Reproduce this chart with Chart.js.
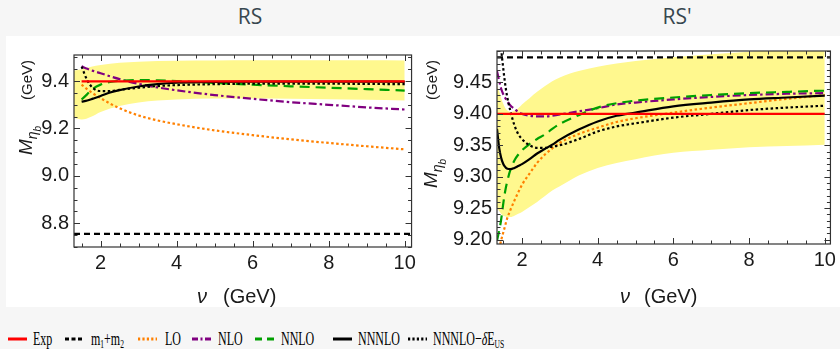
<!DOCTYPE html>
<html>
<head>
<meta charset="utf-8">
<script src="https://cdn.jsdelivr.net/npm/chart.js@4/dist/chart.umd.min.js"></script>
<style>
  html, body { margin: 0; padding: 0; }
  body { width: 840px; height: 349px; background: #f6f6f6; position: relative; overflow: hidden; }
  .title { position: absolute; top: 2px; font: 21px "Open Sans", sans-serif; color: #37474f; transform: translateX(-50%); }
  #sheet { position: absolute; left: 6px; top: 36px; width: 834px; height: 271px; background: #fff; }
  canvas { position: absolute; }
  #legend { position: absolute; top: 327px; left: 0; width: 840px; height: 24px; font: 19px "Liberation Serif", "DejaVu Serif", serif; color: #000; }
  .swatch { position: absolute; top: 9px; line-height: 0; }
  .swatch svg { display: block; }
  .label { position: absolute; top: 0; line-height: 24px; white-space: nowrap; transform: scaleX(0.63); transform-origin: left center; }
  sub { font-size: 12px; vertical-align: -3px; line-height: 0; }
</style>
</head>
<body>
<div class="title" style="left:250px">RS</div>
<div class="title" style="left:677px">RS'</div>
<div id="sheet"></div>
<canvas id="rsChart" width="414" height="269" style="left:6px;top:38px"></canvas>
<canvas id="rspChart" width="420" height="273" style="left:420px;top:34px"></canvas>
<div id="legend"></div>
<script>
// ---- RS panel ----
const rsNu = [1.5, 1.65, 1.8, 2, 2.25, 2.5, 3, 3.5, 4, 5, 6, 7, 8, 9, 10];
const rsLO = [9.385, 9.365, 9.348, 9.328, 9.305, 9.285, 9.255, 9.234, 9.218, 9.192, 9.172, 9.154, 9.139, 9.125, 9.112];
const rsNLO = [9.462, 9.452, 9.443, 9.433, 9.42, 9.408, 9.388, 9.373, 9.361, 9.341, 9.325, 9.311, 9.3, 9.289, 9.28];
const rsNNLO = [9.322, 9.345, 9.368, 9.385, 9.396, 9.401, 9.404, 9.403, 9.4, 9.392, 9.385, 9.378, 9.372, 9.366, 9.36];
const rsNNNLO = [9.313, 9.318, 9.326, 9.337, 9.352, 9.362, 9.377, 9.387, 9.393, 9.397, 9.398, 9.398, 9.398, 9.398, 9.397];
const rsNNNLOus = [9.461, 9.403, 9.37, 9.358, 9.358, 9.363, 9.372, 9.379, 9.383, 9.387, 9.389, 9.389, 9.389, 9.388, 9.387];
const rsBandNu = [1.3, 1.5, 1.75, 2, 2.5, 3, 4, 5, 6, 7, 8, 9, 10];
const rsBandLo = [9.245, 9.238, 9.25, 9.27, 9.295, 9.31, 9.322, 9.326, 9.326, 9.325, 9.323, 9.321, 9.318];
const rsBandHi = [9.445, 9.45, 9.46, 9.468, 9.477, 9.482, 9.486, 9.487, 9.488, 9.488, 9.488, 9.488, 9.487];
const rsExp = 9.399;
const rsM12 = 8.755;

// ---- RS' panel ----
const rspNu = [1.34, 1.4, 1.45, 1.5, 1.55, 1.6, 1.7, 1.8, 1.9, 2, 2.2, 2.4, 2.6, 2.8, 3, 3.5, 4, 4.5, 5, 6, 7, 8, 9, 10];
const rspLO = [null, 9.185, 9.199, 9.21, 9.221, 9.232, 9.248, 9.262, 9.275, 9.287, 9.305, 9.322, 9.335, 9.345, 9.354, 9.368, 9.378, 9.387, 9.393, 9.402, 9.41, 9.417, 9.424, 9.43];
const rspNLO = [9.468, 9.452, 9.44, 9.432, 9.426, 9.421, 9.413, 9.408, 9.403, 9.4, 9.397, 9.396, 9.396, 9.397, 9.399, 9.404, 9.409, 9.415, 9.418, 9.423, 9.427, 9.43, 9.432, 9.433];
const rspNNLO = [9.198, 9.215, 9.232, 9.255, 9.275, 9.29, 9.312, 9.326, 9.335, 9.342, 9.352, 9.36, 9.367, 9.376, 9.384, 9.398, 9.41, 9.417, 9.421, 9.426, 9.43, 9.433, 9.435, 9.437];
const rspNNNLO = [9.376, 9.345, 9.33, 9.321, 9.316, 9.313, 9.312, 9.314, 9.317, 9.32, 9.328, 9.337, 9.344, 9.351, 9.359, 9.375, 9.388, 9.397, 9.402, 9.412, 9.418, 9.423, 9.426, 9.429];
const rspNNNLOus = [null, 9.56, 9.505, 9.475, 9.45, 9.43, 9.403, 9.382, 9.368, 9.36, 9.35, 9.346, 9.346, 9.348, 9.35, 9.36, 9.372, 9.38, 9.385, 9.394, 9.4, 9.406, 9.41, 9.413];
const rspBandLo = [9.25, 9.245, 9.241, 9.238, 9.237, 9.236, 9.236, 9.238, 9.241, 9.244, 9.252, 9.26, 9.269, 9.278, 9.285, 9.302, 9.314, 9.322, 9.328, 9.338, 9.343, 9.347, 9.349, 9.351];
const rspBandHi = [9.445, 9.435, 9.425, 9.417, 9.41, 9.406, 9.403, 9.405, 9.409, 9.415, 9.425, 9.435, 9.444, 9.452, 9.458, 9.468, 9.475, 9.48, 9.484, 9.49, 9.495, 9.499, 9.502, 9.505];
const rspExp = 9.40;
const rspM12 = 9.49;

// ---- axes ----
const xTicks = [2, 4, 6, 8, 10];
const rsYTicks = [8.8, 9.0, 9.2, 9.4];
const rspYTicks = [9.20, 9.25, 9.30, 9.35, 9.40, 9.45];

const legendLabels = ["Exp", "m<sub>1</sub>+m<sub>2</sub>", "LO", "NLO", "NNLO", "NNNLO", "NNNLO\u2212<i>\u03b4</i>E<sub>US</sub>"];
const legendKeys = ["exp", "m12", "lo", "nlo", "nnlo", "n3lo", "n3lous"];

const styles = {
  exp: { color: "#ff0000", dash: [], legendDash: [] },
  m12: { color: "#000000", dash: [6, 4], legendDash: [4, 2.5] },
  lo: { color: "#ff8000", dash: [2.5, 2.5], legendDash: [2.2, 2.2] },
  nlo: { color: "#800080", dash: [8, 3, 2.5, 3], legendDash: [6, 2.5, 2, 2.5] },
  nnlo: { color: "#00a000", dash: [10, 6], legendDash: [7, 5] },
  n3lo: { color: "#000000", dash: [], legendDash: [] },
  n3lous: { color: "#000000", dash: [2.5, 2.5], legendDash: [2.2, 2.2] }
};
const BAND_COLOR = "#fff88e";
const TEXT_COLOR = "#1a1a1a";

function toPoints(xs, ys) {
  const pts = [];
  xs.forEach((x, i) => {
    if (ys[i] !== null && ys[i] !== undefined) pts.push({ x, y: ys[i] });
  });
  return pts;
}

function lineSet(key, points, order) {
  const s = styles[key];
  return {
    data: points,
    borderColor: s.color,
    borderDash: s.dash,
    borderWidth: 2.2,
    pointRadius: 0,
    fill: false,
    cubicInterpolationMode: "monotone",
    clip: 0,
    order
  };
}

function bandSets(xs, lo, hi) {
  return [
    { data: toPoints(xs, hi), borderWidth: 0, pointRadius: 0, fill: "+1", backgroundColor: BAND_COLOR, cubicInterpolationMode: "monotone", clip: 0, order: 20 },
    { data: toPoints(xs, lo), borderWidth: 0, pointRadius: 0, fill: false, cubicInterpolationMode: "monotone", clip: 0, order: 21 }
  ];
}

// frame with inward major/minor ticks on all four sides, Mathematica style
const framePlugin = {
  id: "frame",
  afterDatasetsDraw(chart, args, opts) {
    const { ctx, chartArea: a, scales } = chart;
    const x = scales.x, y = scales.y;
    ctx.save();
    ctx.strokeStyle = "#333";
    ctx.lineWidth = 1.2;
    ctx.strokeRect(a.left, a.top, a.right - a.left, a.bottom - a.top);
    ctx.lineWidth = 1;
    ctx.beginPath();
    const xMinorStep = 0.5;
    for (let v = Math.ceil(x.min / xMinorStep) * xMinorStep; v <= x.max + 1e-9; v += xMinorStep) {
      const major = xTicks.some(t => Math.abs(t - v) < 1e-6);
      const len = major ? 6 : 3.5;
      const px = Math.round(x.getPixelForValue(v)) + 0.5;
      ctx.moveTo(px, a.bottom); ctx.lineTo(px, a.bottom - len);
      ctx.moveTo(px, a.top); ctx.lineTo(px, a.top + len);
    }
    const step = opts.yMinorStep;
    for (let i = Math.ceil(y.min / step - 1e-6); i * step <= y.max + 1e-9; i++) {
      const v = i * step;
      const major = opts.yMajor.some(t => Math.abs(t - v) < 1e-6);
      const len = major ? 6 : 3.5;
      const py = Math.round(y.getPixelForValue(v)) + 0.5;
      ctx.moveTo(a.left, py); ctx.lineTo(a.left + len, py);
      ctx.moveTo(a.right, py); ctx.lineTo(a.right - len, py);
    }
    ctx.stroke();
    ctx.restore();
  },
  afterDraw(chart, args, opts) {
    const ctx = chart.ctx;
    ctx.save();
    ctx.fillStyle = TEXT_COLOR;
    ctx.textBaseline = "alphabetic";
    // x title
    ctx.textAlign = "left";
    ctx.font = "italic 20px 'Liberation Sans', Arial, sans-serif";
    ctx.fillText("\u03bd", opts.xTitle[0], opts.xTitle[1]);
    ctx.font = "20px 'Liberation Sans', Arial, sans-serif";
    ctx.fillText("(GeV)", opts.xTitle[0] + opts.xGap, opts.xTitle[1]);
    // y title, rotated
    ctx.translate(opts.yTitle[0], opts.yTitle[1]);
    ctx.rotate(-Math.PI / 2);
    ctx.font = "italic 19px 'Liberation Sans', Arial, sans-serif";
    ctx.fillText("M", 0, 0);
    let w = ctx.measureText("M").width;
    ctx.font = "italic 14px 'Liberation Sans', Arial, sans-serif";
    ctx.fillText("\u03b7", w, 5);
    w += ctx.measureText("\u03b7").width;
    ctx.font = "italic 10px 'Liberation Sans', Arial, sans-serif";
    ctx.fillText("b", w, 9);
    ctx.font = "15px 'Liberation Sans', Arial, sans-serif";
    ctx.fillText("(GeV)", opts.gevOffset, 0);
    ctx.restore();
  }
};

function buildChart(canvas, cfg) {
  const tickFont = { family: "'Liberation Sans', Arial, sans-serif", size: 20 };
  return new Chart(canvas, {
    type: "line",
    data: { datasets: cfg.datasets },
    options: {
      responsive: false,
      animation: false,
      devicePixelRatio: 1,
      events: [],
      layout: { padding: { top: 2, right: cfg.padRight, left: 0, bottom: 0 } },
      plugins: {
        legend: { display: false },
        tooltip: { enabled: false },
        frame: cfg.frame
      },
      scales: {
        x: {
          type: "linear",
          min: cfg.xMin,
          max: cfg.xMax,
          afterFit: s => { s.height = cfg.xAxisH; },
          afterBuildTicks: s => { s.ticks = xTicks.map(v => ({ value: v })); },
          grid: { display: false, drawTicks: false },
          border: { display: false },
          ticks: { font: tickFont, color: TEXT_COLOR, padding: 4, maxRotation: 0, callback: v => String(v) }
        },
        y: {
          type: "linear",
          min: cfg.yMin,
          max: cfg.yMax,
          afterFit: s => { s.width = cfg.yAxisW; },
          afterBuildTicks: s => { s.ticks = cfg.yTicks.map(v => ({ value: v })); },
          grid: { display: false, drawTicks: false },
          border: { display: false },
          ticks: { font: tickFont, color: TEXT_COLOR, padding: 5, callback: v => v.toFixed(cfg.yDigits) }
        }
      }
    },
    plugins: [framePlugin]
  });
}

function panelSets(p) {
  return [
    lineSet("exp", toPoints([p.nu[0], 10], [p.exp, p.exp]), 0),
    lineSet("m12", toPoints([p.xMin, p.xMax], [p.m12, p.m12]), 1),
    lineSet("n3lo", toPoints(p.nu, p.n3lo), 2),
    lineSet("n3lous", toPoints(p.nu, p.n3lous), 3),
    lineSet("nnlo", toPoints(p.nu, p.nnlo), 4),
    lineSet("nlo", toPoints(p.nu, p.nlo), 5),
    lineSet("lo", toPoints(p.nu, p.lo), 6),
    ...bandSets(p.bandNu, p.bandLo, p.bandHi)
  ];
}

buildChart(document.getElementById("rsChart"), {
  datasets: panelSets({ nu: rsNu, exp: rsExp, m12: rsM12, xMin: 1.3, xMax: 10.18, lo: rsLO, nlo: rsNLO, nnlo: rsNNLO, n3lo: rsNNNLO, n3lous: rsNNNLOus, bandNu: rsBandNu, bandLo: rsBandLo, bandHi: rsBandHi }),
  xMin: 1.3, xMax: 10.18, yMin: 8.70, yMax: 9.51,
  yTicks: rsYTicks, yDigits: 1,
  yAxisW: 68, xAxisH: 60, padRight: 8,
  frame: { yMinorStep: 0.05, yMajor: rsYTicks, xTitle: [191, 265], xGap: 26, yTitle: [26, 117], gevOffset: 55 }
});

buildChart(document.getElementById("rspChart"), {
  datasets: panelSets({ nu: rspNu, exp: rspExp, m12: rspM12, xMin: 1.34, xMax: 10.15, lo: rspLO, nlo: rspNLO, nnlo: rspNNLO, n3lo: rspNNNLO, n3lous: rspNNNLOus, bandNu: rspNu, bandLo: rspBandLo, bandHi: rspBandHi }),
  xMin: 1.34, xMax: 10.15, yMin: 9.193, yMax: 9.50,
  yTicks: rspYTicks, yDigits: 2,
  yAxisW: 77, xAxisH: 63, padRight: 7,
  frame: { yMinorStep: 0.01, yMajor: rspYTicks, xTitle: [200, 269], xGap: 24, yTitle: [17, 154], gevOffset: 88 }
});

// legend row
const legendEl = document.getElementById("legend");
const swatchLeft = [8, 65, 138, 192, 255, 333, 408];
const labelLeft = [33, 91, 165, 218, 281, 358, 433];
legendKeys.forEach((key, i) => {
  const s = styles[key];
  const dash = s.legendDash.length ? `stroke-dasharray="${s.legendDash.join(" ")}"` : "";
  const sw = document.createElement("div");
  sw.className = "swatch";
  sw.style.left = swatchLeft[i] + "px";
  sw.innerHTML = `<svg width="19" height="6"><line x1="0" y1="3" x2="19" y2="3" stroke="${s.color}" stroke-width="3" ${dash}/></svg>`;
  const lab = document.createElement("div");
  lab.className = "label";
  lab.style.left = labelLeft[i] + "px";
  lab.innerHTML = legendLabels[i];
  legendEl.appendChild(sw);
  legendEl.appendChild(lab);
});
</script>
</body>
</html>
